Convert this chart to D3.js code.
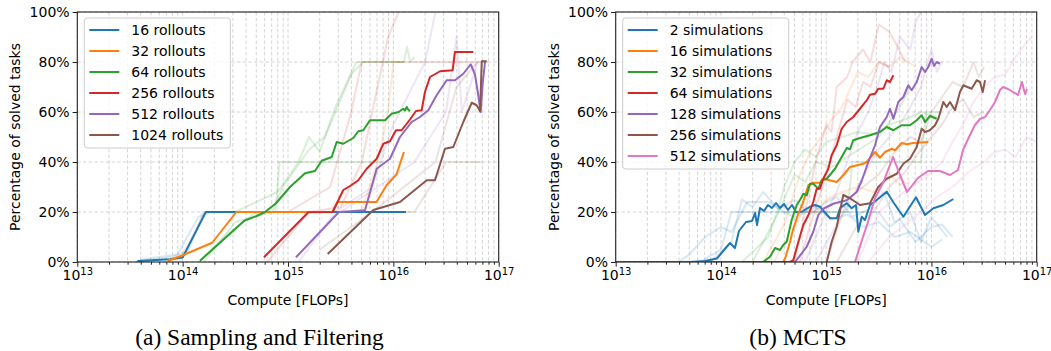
<!DOCTYPE html>
<html>
<head>
<meta charset="utf-8">
<script src="https://cdn.jsdelivr.net/npm/d3@7"></script>
<style>
  body { margin: 0; background: #fff; }
  text { font-family: "DejaVu Sans", sans-serif; fill: #000; }
</style>
</head>
<body>
<svg id="fig" width="1051" height="351"></svg>
<script>
// x = log10(compute in FLOPs), y = percentage of solved tasks

// ---- (a) Sampling and Filtering ----
const sfLabels = ["16 rollouts", "32 rollouts", "64 rollouts", "256 rollouts", "512 rollouts", "1024 rollouts"];
const sf16 = [[13.57, 0.4], [13.88, 1.1], [14.0, 1.8], [14.22, 20], [16.12, 20]];
const sf32 = [[13.86, 0.5], [13.99, 2.5], [14.28, 7.7], [14.51, 20], [15.42, 20], [15.47, 24], [15.84, 24], [15.94, 31], [16.03, 35], [16.10, 44]];
const sf64 = [[14.165, 0.5], [14.585, 16.5], [14.703, 18.4], [14.782, 20], [14.886, 23.5], [15.019, 30], [15.162, 35.5], [15.256, 36.4], [15.32, 40.5], [15.415, 42], [15.462, 48], [15.525, 47.3], [15.62, 49.6], [15.667, 52.3], [15.715, 52.7], [15.778, 56.7], [15.921, 56.7], [15.984, 59.3], [16.05, 60], [16.094, 61.3], [16.11, 60.6], [16.127, 62], [16.14, 61], [16.158, 60.3]];
const sf256 = [[14.772, 1.9], [15.193, 19.9], [15.424, 20], [15.525, 28.8], [15.605, 30.8], [15.667, 32.7], [15.747, 37.3], [15.842, 41.3], [15.905, 47.3], [15.968, 48.3], [16.025, 52.7], [16.079, 52.7], [16.158, 57], [16.215, 60.4], [16.269, 60.7], [16.30, 68], [16.348, 74], [16.443, 76.3], [16.563, 76.7], [16.585, 84], [16.759, 84]];
const sf512 = [[15.076, 1.9], [15.484, 20], [15.731, 20.7], [15.842, 37.3], [15.968, 41.3], [16.063, 50], [16.174, 56], [16.253, 58], [16.332, 60.7], [16.411, 66.7], [16.506, 72.7], [16.585, 72.7], [16.664, 75.3], [16.734, 79.1], [16.775, 75], [16.806, 66.7], [16.829, 60], [16.848, 71.3], [16.87, 80]];
const sf1024 = [[15.377, 3.2], [15.81, 20.8], [16.063, 24], [16.317, 32.7], [16.395, 32.7], [16.49, 45.3], [16.569, 46], [16.664, 56], [16.744, 63.7], [16.791, 62.7], [16.823, 60.3], [16.839, 80.3], [16.886, 80.3]];

// individual runs (drawn faint)
const sf16Runs = [
  [[13.55, 0], [13.9, 2], [14.05, 4.5], [14.2, 20], [14.4, 20]],
  [[13.6, 1], [13.95, 3], [14.15, 18], [14.25, 20], [14.5, 20]]
];
const sf32Runs = [
  [[13.85, 0], [14.0, 3], [14.2, 19], [14.3, 20], [15.5, 20]],
  [[14.3, 20], [15.7, 20], [15.85, 40], [15.95, 60], [16.0, 80], [16.1, 80]]
];
const sf64Runs = [
  [[14.15, 0], [14.45, 12], [14.7, 20], [14.88, 20], [14.92, 40], [15.9, 40]],
  [[14.2, 0], [14.5, 16], [14.85, 20], [14.95, 30], [15.2, 45], [15.35, 50], [15.45, 60], [15.6, 75], [15.71, 80], [16.1, 80], [16.13, 86], [16.16, 80], [16.2, 82]],
  [[14.5, 20], [14.9, 28], [15.1, 40], [15.2, 50], [15.3, 44], [15.45, 62], [15.65, 80], [16.1, 80]]
];
const sf256Runs = [
  [[14.8, 0], [15.2, 20], [15.5, 22], [15.7, 40], [15.85, 70], [15.95, 90], [16.05, 100]],
  [[15.0, 20], [15.4, 30], [15.6, 60], [15.7, 80], [16.8, 80]]
];
const sf512Runs = [
  [[15.1, 0], [15.45, 20], [15.8, 30], [16.0, 55], [16.3, 80], [16.4, 100]],
  [[15.5, 20], [16.2, 40], [16.5, 60], [16.6, 90], [16.65, 60], [16.8, 80]]
];
const sf1024Runs = [
  [[15.3, 5], [15.8, 20], [16.4, 40], [16.6, 70], [16.8, 80], [16.9, 80]],
  [[15.6, 20], [16.2, 20], [16.5, 40], [16.84, 40]]
];

// ---- (b) MCTS ----
const mctsLabels = ["2 simulations", "16 simulations", "32 simulations", "64 simulations", "128 simulations", "256 simulations", "512 simulations"];
const mcts2 = [[13.0, 0], [13.706, 0], [13.848, 0.4], [13.962, 1.4], [14.029, 4.8], [14.086, 7.6], [14.133, 5.6], [14.171, 12.4], [14.238, 16], [14.295, 16.4], [14.324, 19.6], [14.343, 14.8], [14.371, 21.6], [14.409, 20.4], [14.447, 22.8], [14.485, 21.6], [14.523, 23.6], [14.561, 21.6], [14.599, 23.2], [14.637, 20.8], [14.675, 22.8], [14.713, 20], [14.767, 20.1], [14.846, 22.1], [14.894, 22.8], [14.941, 22.1], [15.036, 17.5], [15.1, 17.5], [15.131, 21.5], [15.195, 23.5], [15.242, 21.5], [15.283, 22.8], [15.305, 12.1], [15.337, 18.1], [15.369, 16.8], [15.416, 22.8], [15.48, 24.8], [15.575, 28.1], [15.644, 23.5], [15.733, 18.1], [15.853, 25.9], [15.939, 18.8], [16.018, 21.5], [16.113, 22.8], [16.208, 25.2]];
const mcts16 = [[13.8, 0], [14.59, 0], [14.609, 1.3], [14.656, 8], [14.687, 13.3], [14.735, 19.3], [14.782, 24], [14.83, 30.7], [14.877, 31.7], [14.941, 31.7], [14.972, 33.3], [15.1, 32], [15.162, 34.7], [15.226, 38], [15.353, 39.3], [15.385, 40], [15.464, 44], [15.511, 41.7], [15.559, 44], [15.622, 45.3], [15.654, 44.7], [15.717, 47.6], [15.765, 47.1], [15.828, 47.6], [15.97, 48]];
const mcts32 = [[13.8, 0], [14.4, 0], [14.466, 2.1], [14.514, 5.6], [14.561, 4.8], [14.592, 6.8], [14.625, 8.1], [14.672, 16.8], [14.72, 22.8], [14.758, 25.3], [14.782, 27.3], [14.815, 26.7], [14.846, 31.3], [14.877, 31.3], [14.925, 29.3], [14.957, 32.7], [15.005, 33.3], [15.084, 37.3], [15.147, 42], [15.195, 45.6], [15.226, 45.1], [15.257, 48.7], [15.321, 49.6], [15.416, 50.7], [15.511, 52], [15.575, 54], [15.638, 52.7], [15.717, 54.7], [15.796, 54.7], [15.86, 56.7], [15.907, 58.7], [15.939, 56], [15.986, 58.4], [16.05, 57.3]];
const mcts64 = [[14.2, 0], [14.656, 0], [14.687, 0.7], [14.735, 8], [14.782, 14.7], [14.83, 18.7], [14.877, 24], [14.91, 29.3], [14.941, 29.3], [14.972, 33.3], [15.02, 37.3], [15.052, 42.7], [15.1, 46.7], [15.147, 53.3], [15.195, 56], [15.257, 58], [15.321, 61.3], [15.385, 64.7], [15.416, 66.9], [15.464, 67.3], [15.495, 69.3], [15.543, 69.3], [15.575, 72.7], [15.606, 72], [15.638, 74.7]];
const mcts128 = [[14.704, 0], [14.815, 6.1], [14.877, 12.1], [14.925, 18.8], [14.972, 21.3], [15.067, 23.3], [15.195, 24.7], [15.29, 28], [15.34, 32.8], [15.4, 40], [15.464, 46.7], [15.511, 54], [15.575, 58], [15.606, 61.3], [15.638, 57.3], [15.685, 64], [15.733, 66], [15.78, 70.7], [15.812, 68.7], [15.86, 72], [15.907, 78], [15.939, 76], [15.97, 78], [16.002, 81.3], [16.024, 78.4], [16.05, 80], [16.081, 79.3]];
const mcts256 = [[15.005, 0], [15.052, 8.1], [15.1, 14.1], [15.162, 26.8], [15.226, 25.5], [15.321, 22.8], [15.416, 23.5], [15.495, 30], [15.575, 33.3], [15.67, 35.3], [15.733, 39.3], [15.796, 41.3], [15.86, 46], [15.907, 53.3], [15.939, 52], [15.986, 52.7], [16.034, 54.7], [16.065, 57.3], [16.113, 64], [16.145, 62], [16.176, 64], [16.224, 60.7], [16.271, 68], [16.303, 70.7], [16.341, 70], [16.382, 69.3], [16.43, 72.7], [16.461, 72], [16.487, 68], [16.509, 72.7]];
const mcts512 = [[15.274, 0], [15.34, 8.8], [15.397, 16], [15.464, 25.6], [15.54, 31.6], [15.635, 42], [15.701, 34.8], [15.768, 28], [15.872, 33.6], [15.967, 36.4], [16.081, 36.4], [16.176, 34.8], [16.252, 36.8], [16.3, 44.8], [16.366, 50.8], [16.414, 54.8], [16.461, 57.2], [16.509, 58], [16.556, 60.8], [16.604, 64], [16.651, 68.8], [16.68, 70], [16.727, 69.2], [16.775, 68], [16.822, 66.8], [16.86, 72], [16.889, 67.2], [16.908, 69.2]];

const mcts2Runs = [
  [[13.6, 0], [13.7, 3], [13.85, 10], [14.0, 14], [14.1, 12], [14.25, 24], [14.45, 24], [14.6, 20], [14.7, 18], [14.9, 22], [15.05, 17], [15.2, 19], [15.35, 14], [15.5, 16], [15.65, 10], [15.8, 12], [16.0, 6], [16.1, 9]],
  [[13.8, 0], [14.0, 5], [14.1, 20], [15.0, 20], [15.5, 20], [15.6, 14], [15.7, 17], [15.85, 8], [16.0, 14], [16.1, 15], [16.2, 10]],
  [[13.9, 0], [14.1, 8], [14.2, 25], [14.3, 22], [14.4, 28], [14.55, 21], [14.7, 25], [14.85, 19], [15.0, 24], [15.1, 26], [15.25, 18], [15.4, 21], [15.55, 28], [15.65, 16], [15.8, 20], [15.9, 8], [16.0, 18], [16.15, 10]]
];
const mcts16Runs = [
  [[14.4, 0], [14.6, 15], [14.75, 35], [14.85, 44], [14.95, 50], [15.05, 57], [15.15, 62], [15.3, 76], [15.4, 74], [15.5, 80], [15.6, 78], [15.7, 82], [15.85, 78]],
  [[14.5, 0], [14.65, 10], [14.8, 22], [14.9, 20], [15.0, 25], [15.15, 28], [15.3, 30], [15.45, 28], [15.6, 35], [15.7, 31], [15.8, 32]]
];
const mcts32Runs = [
  [[14.2, 0], [14.45, 10], [14.55, 22], [14.6, 30], [14.7, 40], [14.8, 45], [14.9, 42], [15.0, 48], [15.15, 50], [15.3, 52], [15.45, 51], [15.6, 55], [15.75, 57], [15.9, 60], [16.05, 58]],
  [[14.3, 0], [14.55, 20], [14.7, 35], [14.8, 32], [14.9, 40], [15.05, 38], [15.2, 42], [15.35, 46], [15.5, 50], [15.6, 56], [15.7, 62], [15.8, 70]],
  [[14.6, 20], [15.2, 20], [15.25, 40], [15.9, 40], [15.95, 60], [16.1, 60]]
];
const mcts64Runs = [
  [[14.7, 0], [14.8, 20], [14.85, 30], [14.9, 40], [15.0, 55], [15.05, 52], [15.1, 70], [15.2, 74], [15.25, 80], [15.35, 85], [15.42, 80], [15.5, 95], [15.6, 92], [15.68, 86], [15.75, 80]],
  [[14.75, 0], [14.85, 15], [14.95, 28], [15.0, 35], [15.1, 50], [15.2, 65], [15.28, 62], [15.35, 72], [15.42, 70], [15.5, 80], [15.6, 78]]
];
const mcts128Runs = [
  [[14.8, 0], [15.0, 20], [15.1, 28], [15.2, 40], [15.3, 52], [15.4, 60], [15.5, 72], [15.55, 80], [15.62, 76], [15.7, 90], [15.8, 85], [15.85, 96], [15.9, 100]],
  [[14.9, 0], [15.1, 15], [15.2, 22], [15.3, 30], [15.4, 38], [15.5, 45], [15.6, 50], [15.7, 55], [15.8, 62], [15.9, 70], [16.0, 85], [16.05, 76], [16.1, 80]]
];
const mcts256Runs = [
  [[15.0, 0], [15.2, 25], [15.35, 30], [15.5, 35], [15.65, 44], [15.8, 50], [15.9, 48], [16.0, 60], [16.1, 66], [16.2, 72], [16.3, 70], [16.4, 80], [16.45, 74], [16.5, 78]],
  [[15.1, 0], [15.3, 15], [15.45, 20], [15.6, 30], [15.75, 36], [15.9, 45], [16.0, 50], [16.1, 55], [16.2, 62], [16.3, 65], [16.4, 58], [16.5, 60]]
];
const mcts512Runs = [
  [[15.3, 0], [15.5, 20], [15.65, 25], [15.8, 30], [15.95, 34], [16.1, 40], [16.2, 48], [16.3, 55], [16.4, 64], [16.5, 70], [16.6, 74], [16.7, 75], [16.8, 82], [16.85, 85], [16.95, 90]],
  [[15.4, 0], [15.6, 10], [15.75, 15], [15.9, 20], [16.05, 26], [16.2, 30], [16.35, 36], [16.5, 40], [16.6, 44], [16.7, 45], [16.8, 42], [16.9, 50], [17.0, 48]]
];

const colors = ["#1f77b4", "#ff7f0e", "#2ca02c", "#d62728", "#9467bd", "#8c564b", "#e377c2"];

const svg = d3.select("#fig");
const yTop = 12, yBottom = 262;

function drawPanel(cfg) {
  const x = d3.scaleLog().domain([1e13, 1e17]).range([cfg.x0, cfg.x1]);
  const y = d3.scaleLinear().domain([0, 100]).range([yBottom, yTop]);
  const g = svg.append("g");

  const minor = [];
  for (let e = 13; e < 17; e++) for (let m = 2; m <= 9; m++) minor.push(m * Math.pow(10, e));
  const major = [1e13, 1e14, 1e15, 1e16, 1e17];
  const yTicks = [0, 20, 40, 60, 80, 100];

  // grid
  const grid = g.append("g")
    .attr("stroke", "#b0b0b0")
    .attr("stroke-opacity", 0.6)
    .attr("stroke-width", 0.9)
    .attr("stroke-dasharray", "3.5,2.2");
  grid.selectAll(".gx")
    .data(minor.concat(major))
    .enter()
    .append("line")
    .attr("x1", (d) => x(d)).attr("x2", (d) => x(d))
    .attr("y1", yTop).attr("y2", yBottom);
  grid.selectAll(".gy")
    .data(yTicks)
    .enter()
    .append("line")
    .attr("x1", cfg.x0).attr("x2", cfg.x1)
    .attr("y1", (d) => y(d)).attr("y2", (d) => y(d));

  // lines
  const clipId = "clip" + cfg.id;
  svg.append("clipPath").attr("id", clipId)
    .append("rect")
    .attr("x", cfg.x0).attr("y", yTop)
    .attr("width", cfg.x1 - cfg.x0).attr("height", yBottom - yTop);

  const line = d3.line()
    .x((d) => x(Math.pow(10, d[0])))
    .y((d) => y(d[1]));

  const plot = g.append("g").attr("clip-path", `url(#${clipId})`);
  cfg.series.forEach((s, i) => {
    s.runs.forEach((r) => {
      plot.append("path")
        .datum(r)
        .attr("fill", "none")
        .attr("stroke", colors[i])
        .attr("stroke-opacity", 0.17)
        .attr("stroke-width", 2)
        .attr("stroke-linejoin", "round")
        .attr("d", line);
    });
  });
  cfg.series.forEach((s, i) => {
    plot.append("path")
      .datum(s.data)
      .attr("fill", "none")
      .attr("stroke", colors[i])
      .attr("stroke-width", 2)
      .attr("stroke-linejoin", "round")
      .attr("d", line);
  });

  // axes
  const xAxis = g.append("g")
    .attr("transform", `translate(0,${yBottom})`)
    .call(d3.axisBottom(x).tickValues(major).tickSize(4.7).tickPadding(3));
  xAxis.selectAll(".tick text")
    .style("font-size", "14px")
    .each(function (d) {
      const t = d3.select(this);
      t.text("");
      t.append("tspan").text("10");
      t.append("tspan").attr("dy", "-0.45em").style("font-size", "10px").text(Math.round(Math.log10(d)));
    });
  g.append("g")
    .attr("transform", `translate(0,${yBottom})`)
    .call(d3.axisBottom(x).tickValues(minor).tickSize(2.7).tickFormat(""));

  g.append("g")
    .attr("transform", `translate(${cfg.x0},0)`)
    .call(d3.axisLeft(y).tickValues(yTicks).tickSize(4.7).tickPadding(3).tickFormat((d) => d + "%"))
    .selectAll(".tick text")
    .style("font-size", "14px");

  g.selectAll(".domain").remove();
  g.selectAll(".tick line").attr("stroke", "#222").attr("stroke-width", 1);

  g.append("rect")
    .attr("x", cfg.x0).attr("y", yTop)
    .attr("width", cfg.x1 - cfg.x0).attr("height", yBottom - yTop)
    .attr("fill", "none").attr("stroke", "#222").attr("stroke-width", 1.1);

  // labels
  g.append("text")
    .attr("x", (cfg.x0 + cfg.x1) / 2)
    .attr("y", 305)
    .attr("text-anchor", "middle")
    .style("font-size", "14px")
    .text("Compute [FLOPs]");
  g.append("text")
    .attr("transform", `translate(${cfg.x0 - 57},${(yTop + yBottom) / 2}) rotate(-90)`)
    .attr("text-anchor", "middle")
    .style("font-size", "14px")
    .text("Percentage of solved tasks");
  g.append("text")
    .attr("x", cfg.captionX)
    .attr("y", 345)
    .attr("text-anchor", "middle")
    .style("font-family", "'Liberation Serif', 'Times New Roman', serif")
    .style("font-size", "23.5px")
    .text(cfg.caption);

  // legend
  const lg = g.append("g");
  const rowH = 21;
  lg.append("rect")
    .attr("x", cfg.x0 + 7).attr("y", 18)
    .attr("width", cfg.legendW).attr("height", cfg.series.length * rowH + 4)
    .attr("rx", 3)
    .attr("fill", "#fff").attr("fill-opacity", 0.8)
    .attr("stroke", "#cccccc").attr("stroke-width", 1);
  cfg.series.forEach((s, i) => {
    const cy = 30 + i * rowH;
    lg.append("line")
      .attr("x1", cfg.x0 + 12).attr("x2", cfg.x0 + 42)
      .attr("y1", cy).attr("y2", cy)
      .attr("stroke", colors[i]).attr("stroke-width", 2);
    lg.append("text")
      .attr("x", cfg.x0 + 54).attr("y", cy + 5)
      .style("font-size", "14px")
      .text(s.label);
  });
}

drawPanel({
  id: "a", x0: 77.3, x1: 498.7, legendW: 146, captionX: 259.5,
  caption: "(a) Sampling and Filtering",
  series: [
    { label: sfLabels[0], data: sf16, runs: sf16Runs },
    { label: sfLabels[1], data: sf32, runs: sf32Runs },
    { label: sfLabels[2], data: sf64, runs: sf64Runs },
    { label: sfLabels[3], data: sf256, runs: sf256Runs },
    { label: sfLabels[4], data: sf512, runs: sf512Runs },
    { label: sfLabels[5], data: sf1024, runs: sf1024Runs }
  ]
});

drawPanel({
  id: "b", x0: 615.7, x1: 1036.7, legendW: 166, captionX: 798,
  caption: "(b) MCTS",
  series: [
    { label: mctsLabels[0], data: mcts2, runs: mcts2Runs },
    { label: mctsLabels[1], data: mcts16, runs: mcts16Runs },
    { label: mctsLabels[2], data: mcts32, runs: mcts32Runs },
    { label: mctsLabels[3], data: mcts64, runs: mcts64Runs },
    { label: mctsLabels[4], data: mcts128, runs: mcts128Runs },
    { label: mctsLabels[5], data: mcts256, runs: mcts256Runs },
    { label: mctsLabels[6], data: mcts512, runs: mcts512Runs }
  ]
});
</script>
</body>
</html>
